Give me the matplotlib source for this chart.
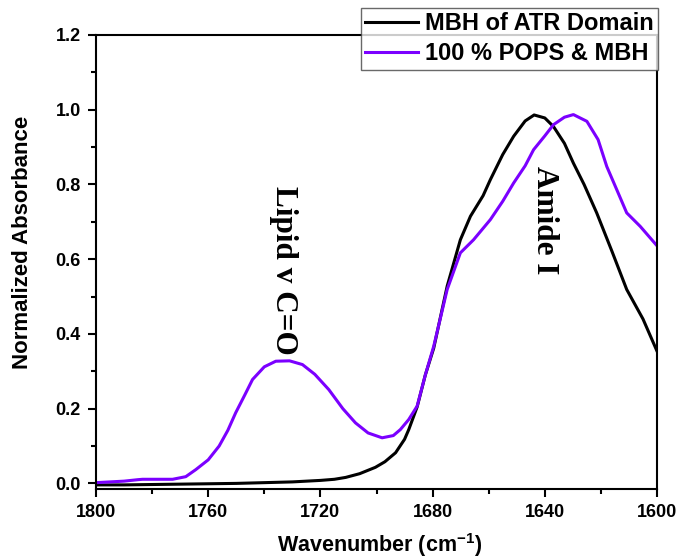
import matplotlib
matplotlib.use("Agg")
import matplotlib.pyplot as plt
from matplotlib.ticker import MultipleLocator

# FTIR spectra, normalized absorbance vs wavenumber (cm^-1)
wn_mbh = [1800, 1790, 1780, 1770, 1760, 1750, 1740, 1730, 1720, 1715, 1711, 1706,
          1700.4, 1697, 1693.2, 1690, 1688.5, 1685.5, 1682.6, 1679.6, 1674.8, 1670.1,
          1666.5, 1662, 1659.4, 1655, 1651.1, 1647, 1643.8, 1640, 1636.9, 1633,
          1629.8, 1626, 1621.5, 1616, 1610.8, 1605, 1600]
abs_mbh = [-0.004, -0.004, -0.003, -0.002, -0.001, 0.0, 0.002, 0.004, 0.008, 0.011,
           0.016, 0.026, 0.043, 0.058, 0.082, 0.118, 0.144, 0.205, 0.29, 0.362, 0.528,
           0.652, 0.715, 0.77, 0.813, 0.88, 0.929, 0.97, 0.986, 0.978, 0.955, 0.91,
           0.857, 0.8, 0.724, 0.62, 0.519, 0.44, 0.354]

wn_pops = [1800, 1795, 1790, 1785, 1783.4, 1778, 1772.7, 1768, 1764.4, 1760, 1756.1,
           1753, 1750.2, 1747, 1744.2, 1740, 1735.9, 1731, 1726.4, 1722, 1717.0, 1712,
           1707.5, 1703, 1698.0, 1694, 1691.5, 1688.5, 1685.5, 1682.6, 1679.6, 1674.8,
           1670.1, 1665.4, 1659.4, 1655, 1651.1, 1647, 1644.0, 1640, 1636.9, 1633,
           1629.8, 1625.0, 1621, 1617.9, 1614, 1610.8, 1606.0, 1600]
abs_pops = [0.002, 0.004, 0.006, 0.01, 0.011, 0.011, 0.011, 0.018, 0.037, 0.063, 0.1,
            0.142, 0.189, 0.236, 0.278, 0.312, 0.327, 0.328, 0.318, 0.292, 0.251, 0.2,
            0.162, 0.135, 0.122, 0.128, 0.144, 0.171, 0.207, 0.29, 0.367, 0.519, 0.617,
            0.652, 0.706, 0.755, 0.804, 0.85, 0.893, 0.93, 0.96, 0.98, 0.987, 0.969,
            0.92, 0.848, 0.78, 0.724, 0.688, 0.636]

label_mbh = "MBH of ATR Domain"
label_pops = "100 % POPS & MBH"

purple = "#7B00FF"

plt.rcParams["font.family"] = ["Liberation Sans", "DejaVu Sans"]
plt.rcParams["font.weight"] = "bold"
plt.rcParams["mathtext.fontset"] = "custom"
plt.rcParams["mathtext.rm"] = "Liberation Sans:bold"
plt.rcParams["mathtext.bf"] = "Liberation Sans:bold"
plt.rcParams["mathtext.it"] = "Liberation Sans:bold"

fig = plt.figure(figsize=(6.8, 5.6), dpi=100)
ax = fig.add_axes([96 / 680, 71 / 560, 561 / 680, 454 / 560])

ax.plot(wn_mbh, abs_mbh, color="black", lw=2.2, label=label_mbh)
ax.plot(wn_pops, abs_pops, color=purple, lw=2.2, label=label_pops)

ax.set_xlim(1800, 1600)
ax.set_ylim(-0.015, 1.2)
ax.xaxis.set_major_locator(MultipleLocator(40))
ax.xaxis.set_minor_locator(MultipleLocator(20))
ax.yaxis.set_major_locator(MultipleLocator(0.2))
ax.yaxis.set_minor_locator(MultipleLocator(0.1))
ax.yaxis.set_major_formatter(plt.FuncFormatter(lambda v, p: f"{v:.1f}"))

for s in ax.spines.values():
    s.set_linewidth(1.5)
ax.tick_params(which="major", direction="out", length=6, width=1.5, labelsize=13, pad=5)
ax.tick_params(which="minor", direction="out", length=3.5, width=1.5)
for lab in ax.get_xticklabels() + ax.get_yticklabels():
    lab.set_fontweight("bold")

ax.set_xlabel("Wavenumber (cm$^{-1}$)", fontsize=15.5, fontweight="bold")
ax.set_ylabel("Normalized Absorbance", fontsize=16, fontweight="bold")
ax.xaxis.set_label_coords(0.506, -0.092)
ax.yaxis.set_label_coords(-0.112, 0.544)

ax.text(1733.3, 0.571, "Lipid v C=O", rotation=270, ha="center", va="center",
        fontsize=22.5, fontweight="bold", family="Liberation Serif")
ax.text(1640.0, 0.705, "Amide I", rotation=270, ha="center", va="center",
        fontsize=22.5, fontweight="bold", family="Liberation Serif")

leg = ax.legend(loc="upper right", bbox_to_anchor=(1.002, 1 + 27 / 454), fontsize=17,
                frameon=True, fancybox=False, handlelength=2.25, handletextpad=0.3,
                borderpad=0.18, labelspacing=0.3, borderaxespad=0)
leg.get_frame().set_edgecolor("#444444")
leg.get_frame().set_linewidth(1.0)
for t in leg.get_texts():
    t.set_fontweight("bold")

fig.savefig("out.png", dpi=100)
